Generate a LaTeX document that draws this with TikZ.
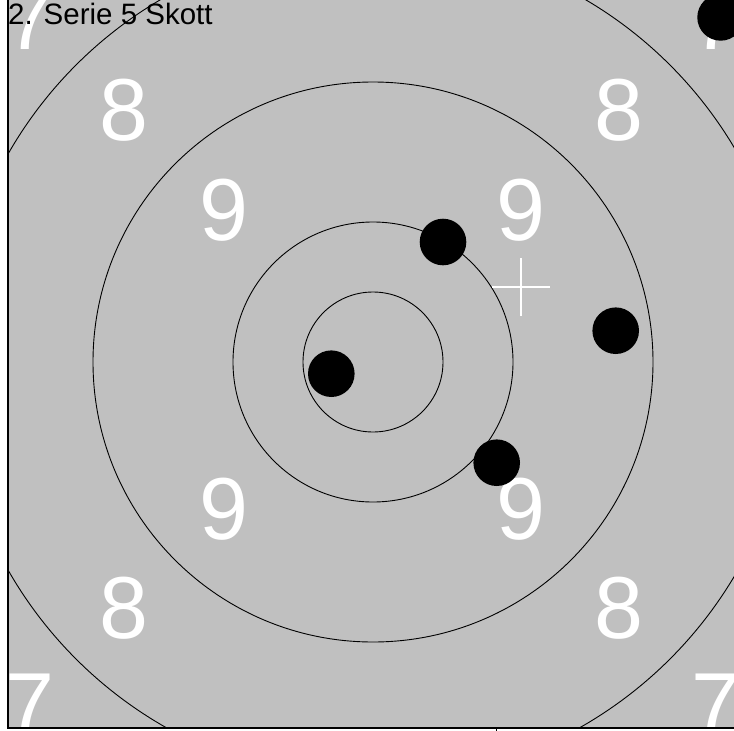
\documentclass[tikz,border=0pt]{standalone}
\usepackage{fontspec}
\setmainfont{Liberation Sans}
\definecolor{targetgray}{HTML}{C0C0C0}
\tikzset{
  ring/.style={draw=black, line width=0.9pt},
  digit/.style={text=white, font=\fontsize{88}{88}\selectfont, inner sep=0pt, anchor=center},
  shot/.style={circle, fill=black, minimum size=46.6pt, inner sep=0pt},
  frameline/.style={draw=black, line width=1.3pt},
  crossline/.style={draw=white, line width=2.6pt}
}
\begin{document}
\begin{tikzpicture}[x=1pt,y=-1pt]
\useasboundingbox (0,0) rectangle (734,731);
\fill[targetgray] (8,0) rectangle (734,728);
\begin{scope}
  \clip (8,0) rectangle (734,728);
  \coordinate (c) at (373,362);
  \foreach \r in {70,140,280,420} {\draw[ring] (c) circle[radius=\r];}
  % ring numbers
  \node[digit] (n7a) at (30,19) {7};
  \node[digit] (n7b) at (716,19) {7};
  \node[digit] (n7c) at (30,704) {7};
  \node[digit] (n7d) at (716,704) {7};
  \node[digit] (n8a) at (124,110.5) {8};
  \node[digit] (n8b) at (619,110.5) {8};
  \node[digit] (n8c) at (124,608) {8};
  \node[digit] (n8d) at (619,608) {8};
  \node[digit] (n9a) at (224,210) {9};
  \node[digit] (n9b) at (521,210) {9};
  \node[digit] (n9c) at (224,509) {9};
  \node[digit] (n9d) at (521,509) {9};
  % shots
  \node[shot] (s1) at (443,242) {};
  \node[shot] (s2) at (615.7,330.7) {};
  \node[shot] (s3) at (331.3,373.7) {};
  \node[shot] (s4) at (496.7,462.7) {};
  \node[shot] (s5) at (720.6,17.4) {};
\end{scope}
% mean point cross
\coordinate (xl) at (492,287);
\coordinate (xr) at (550,287);
\coordinate (xt) at (521,258);
\coordinate (xb) at (521,316);
\draw[crossline] (xl) -- (xr);
\draw[crossline] (xt) -- (xb);
% frame
\coordinate (ftl) at (8,0);
\coordinate (fbl) at (8,728);
\coordinate (fbr) at (734,728);
\draw[frameline] (ftl) -- (fbl) -- (fbr);
\coordinate (tk1) at (496,728);
\coordinate (tk2) at (496,731);
\draw[line width=0.8pt] (tk1) -- (tk2);
% title
\node[anchor=base west, inner sep=0pt, font=\fontsize{29.5}{29.5}\selectfont] (title) at (8,24) {2. Serie 5 Skott};
\end{tikzpicture}
\end{document}
